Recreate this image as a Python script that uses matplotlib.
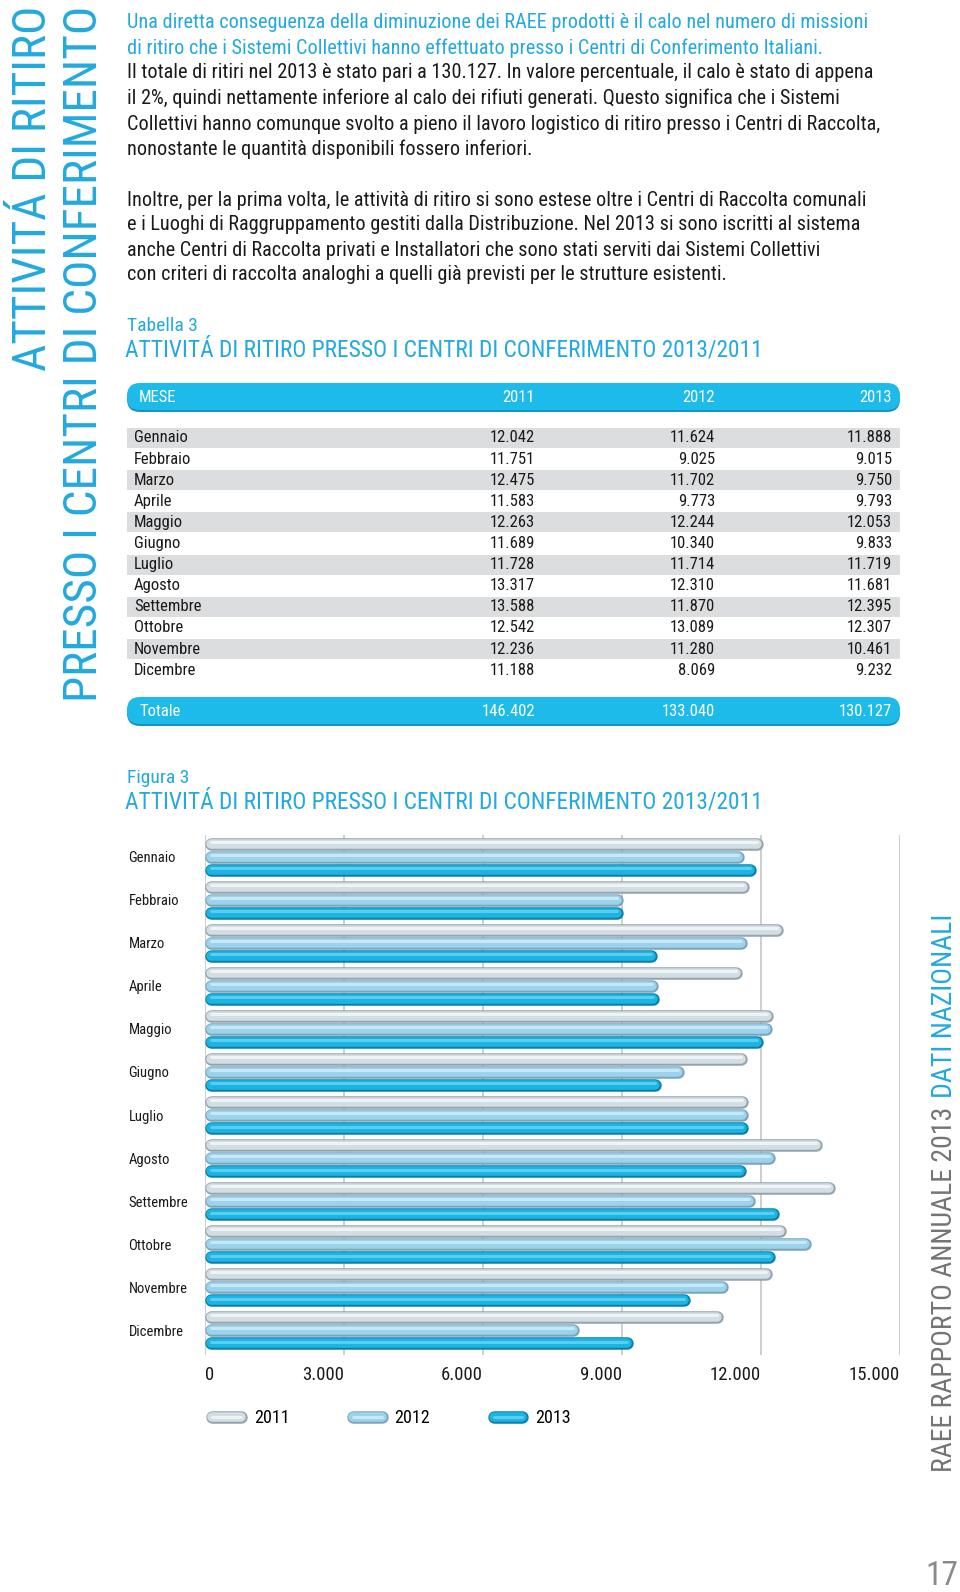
import matplotlib
matplotlib.use("Agg")
import matplotlib.pyplot as plt
from matplotlib import font_manager as fm
from matplotlib.patches import FancyBboxPatch
from matplotlib.lines import Line2D
from matplotlib.legend_handler import HandlerTuple

# data
months = ["Gennaio", "Febbraio", "Marzo", "Aprile", "Maggio", "Giugno",
          "Luglio", "Agosto", "Settembre", "Ottobre", "Novembre", "Dicembre"]
years = ["2011", "2012", "2013"]
v2011 = [12042, 11751, 12475, 11583, 12263, 11689, 11728, 13317, 13588, 12542, 12236, 11188]
v2012 = [11624, 9025, 11702, 9773, 12244, 10340, 11714, 12310, 11870, 13089, 11280, 8069]
v2013 = [11888, 9015, 9750, 9793, 12053, 9833, 11719, 11681, 12395, 12307, 10461, 9232]
xticks = [0, 3000, 6000, 9000, 12000, 15000]

para1_cyan = ["Una diretta conseguenza della diminuzione dei RAEE prodotti è il calo nel numero di missioni",
              "di ritiro che i Sistemi Collettivi hanno effettuato presso i Centri di Conferimento Italiani."]
para1 = ["Il totale di ritiri nel 2013 è stato pari a 130.127. In valore percentuale, il calo è stato di appena",
         "il 2%, quindi nettamente inferiore al calo dei rifiuti generati. Questo significa che i Sistemi",
         "Collettivi hanno comunque svolto a pieno il lavoro logistico di ritiro presso i Centri di Raccolta,",
         "nonostante le quantità disponibili fossero inferiori."]
para2 = ["Inoltre, per la prima volta, le attività di ritiro si sono estese oltre i Centri di Raccolta comunali",
         "e i Luoghi di Raggruppamento gestiti dalla Distribuzione. Nel 2013 si sono iscritti al sistema",
         "anche Centri di Raccolta privati e Installatori che sono stati serviti dai Sistemi Collettivi",
         "con criteri di raccolta analoghi a quelli già previsti per le strutture esistenti."]
title = "ATTIVITÁ DI RITIRO PRESSO I CENTRI DI CONFERIMENTO 2013/2011"


def fmt(v):
    return f"{v:,}".replace(",", ".")


names = {f.name for f in fm.fontManager.ttflist}
narrow = next((n for n in ["Roboto Condensed", "Liberation Sans Narrow", "Open Sans Condensed"]
               if n in names), "Liberation Sans")
plt.rcParams["font.family"] = [narrow, "DejaVu Sans"]

CYAN = "#23A9DE"
BAR = "#1DBBEA"
DARK = "#1A1A1A"
GRID = "#C6C6C6"
col_fill = ["#D3DDE4", "#9DD2EC", "#1CB5E3"]
col_edge = ["#95A3AD", "#7AA5BC", "#0C7FA6"]
col_high = ["#EEF3F6", "#C6E8F7", "#5ACDF1"]

fig = plt.figure(figsize=(9.6, 15.92), dpi=100)
page = fig.add_axes([0, 0, 1, 1])
page.set_xlim(0, 960)
page.set_ylim(1592, 0)
page.axis("off")

# side titles
page.text(33, 6, "ATTIVITÁ DI RITIRO", rotation=90, ha="center", va="top",
          fontsize=34, color=CYAN)
page.text(84, 6, "PRESSO I CENTRI DI CONFERIMENTO", rotation=90, ha="center", va="top",
          fontsize=34, color=CYAN)
t_side = page.text(944, 1472, "RAEE RAPPORTO ANNUALE 2013", rotation=90, ha="center",
                   va="bottom", fontsize=20, color="#747474")
page.text(958, 1592, "17", ha="right", va="bottom", fontsize=24, color="#8A8A8A")

# body text
ys = [23, 48, 73, 98, 124, 149]
for y, line in zip(ys, para1_cyan + para1):
    page.text(127, y, line, va="center", fontsize=14.6,
              color=CYAN if line in para1_cyan else DARK)
for i, line in enumerate(para2):
    page.text(127, 200 + 25 * i, line, va="center", fontsize=14.6, color=DARK)

# table
page.text(127, 326, "Tabella 3", va="center", fontsize=14, color=CYAN)
page.text(125, 350, title, va="center", fontsize=16.8, color=CYAN)

colx = [535, 715, 892]
for y0 in (383, 697):
    page.add_patch(FancyBboxPatch((127, y0 + 2), 773, 27, boxstyle="round,pad=0,rounding_size=13",
                                  fc="#1693C0", ec="none"))
    page.add_patch(FancyBboxPatch((127, y0), 773, 27, boxstyle="round,pad=0,rounding_size=13",
                                  fc=BAR, ec="none"))
page.text(139, 397, "MESE", va="center", fontsize=12, color="white")
for x, yr in zip(colx, years):
    page.text(x, 397, yr, va="center", ha="right", fontsize=12, color="white")

row_pitch = 21.1
for i, m in enumerate(months):
    yc = 438 + row_pitch * i
    if i % 2 == 0:
        page.add_patch(plt.Rectangle((127, yc - 10), 773, 20, fc="#DCDDDF", ec="none"))
    page.text(134, yc, m, va="center", fontsize=12, color=DARK)
    for x, vals in zip(colx, (v2011, v2012, v2013)):
        page.text(x, yc, fmt(vals[i]), va="center", ha="right", fontsize=12, color=DARK)

page.text(139, 711, "Totale", va="center", fontsize=12, color="white")
for x, vals in zip(colx, (v2011, v2012, v2013)):
    page.text(x, 711, fmt(sum(vals)), va="center", ha="right", fontsize=12, color="white")

# figure titles
page.text(127, 778, "Figura 3", va="center", fontsize=14, color=CYAN)
page.text(125, 802, title, va="center", fontsize=16.8, color=CYAN)

# bar chart
W, H = 960, 1592
ax = fig.add_axes([205 / W, 1 - 1355 / H, 695 / W, (1355 - 835) / H])
ax.set_xlim(0, 15000)
ax.set_ylim(11.58, -0.51)
for s in ax.spines.values():
    s.set_visible(False)
ax.set_xticks(xticks)
ax.set_xticklabels([fmt(t) for t in xticks])
ax.grid(axis="x", color=GRID, lw=1.2)
ax.set_axisbelow(True)
ax.tick_params(axis="x", length=0, pad=8, labelsize=13.5, colors=DARK)
for lab in ax.get_xticklabels():
    lab.set_ha("left" if lab.get_text() == "0" else "right")
ax.set_yticks(range(len(months)))
ax.set_yticklabels(months)
ax.tick_params(axis="y", length=0, pad=55, labelsize=10.5, colors=DARK)
for lab in ax.get_yticklabels():
    lab.set_ha("left")

px = 72 / 100
r = 6 * 15000 / 695
off = 13.3 / 43
handles = []
for k, vals in enumerate((v2011, v2012, v2013)):
    for i, v in enumerate(vals):
        yc = i + (k - 1) * off
        ax.plot([r, v - r], [yc, yc], color=col_edge[k], lw=12.5 * px, solid_capstyle="round", zorder=3)
        ax.plot([r, v - r], [yc, yc], color=col_fill[k], lw=9.5 * px, solid_capstyle="round", zorder=4)
        ax.plot([r, v - r], [yc - 1.8 / 43, yc - 1.8 / 43], color=col_high[k], lw=3 * px,
                solid_capstyle="round", zorder=5)
    handles.append((Line2D([0], [0], color=col_edge[k], lw=12.5 * px, solid_capstyle="round"),
                    Line2D([0], [0], color=col_fill[k], lw=9.5 * px, solid_capstyle="round"),
                    Line2D([0], [0], color=col_high[k], lw=3 * px, solid_capstyle="round")))

leg = ax.legend(handles, years, handler_map={tuple: HandlerTuple(ndivide=1)},
                loc="center left", bbox_to_anchor=(212 / W, 1 - 1418 / H),
                bbox_transform=fig.transFigure, ncol=3, frameon=False,
                fontsize=13, handlelength=1.6, handletextpad=0.72, columnspacing=3.5,
                borderpad=0, borderaxespad=0)

fig.canvas.draw()
bb = t_side.get_window_extent().transformed(page.transData.inverted())
top = min(bb.y0, bb.y1)
page.text(944, top - 9, "DATI NAZIONALI", rotation=90, ha="center", va="bottom",
          fontsize=20, color=CYAN)

fig.savefig("out.png", dpi=100)
